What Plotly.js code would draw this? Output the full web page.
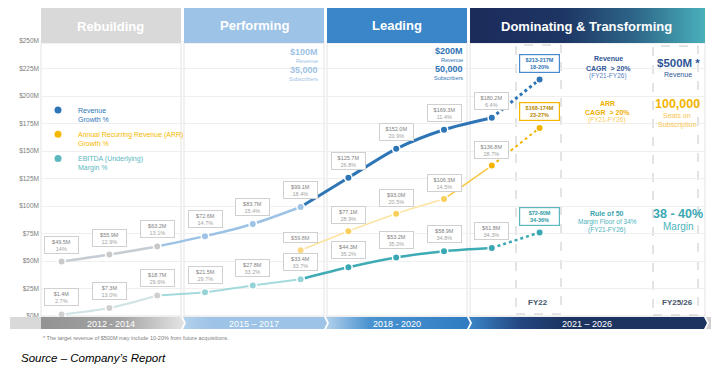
<!DOCTYPE html>
<html>
<head>
<meta charset="utf-8">
<script src="https://cdn.plot.ly/plotly-3.0.1.min.js"></script>
<style>html,body{margin:0;padding:0;background:#fff;}#chart{width:717px;height:369px;}</style>
</head>
<body>
<div id="chart"></div>
<script>
// ---------------- DATA ----------------
const years = [2012, 2013, 2014, 2015, 2016, 2017, 2018, 2019, 2020, 2021];
const revenue = [49.5, 55.9, 63.2, 72.6, 83.7, 99.1, 125.7, 152.0, 169.3, 180.2];
const revenueGrowth = ['14%', '12.9%', '13.1%', '14.7%', '15.4%', '18.4%', '26.8%', '20.9%', '11.4%', '6.4%'];
const arrYears = [2017, 2018, 2019, 2020, 2021];
const arr = [59.8, 77.1, 93.0, 106.3, 136.8];
const arrGrowth = ['', '28.9%', '20.5%', '14.5%', '28.7%'];
const ebitda = [1.4, 7.3, 18.7, 21.5, 27.8, 33.4, 44.3, 53.2, 58.9, 61.8];
const ebitdaMargin = ['2.7%', '13.0%', '29.6%', '29.7%', '33.2%', '33.7%', '35.2%', '35.0%', '34.8%', '34.3%'];
const targetYear = 2022;
const revenueTarget = 215, revenueTargetLabel = ['$213-217M', '18-20%'];
const arrTarget = 171, arrTargetLabel = ['$168-174M', '23-27%'];
const ebitdaTarget = 76, ebitdaTargetLabel = ['$72-80M', '34-36%'];
const yTicks = [0, 25, 50, 75, 100, 125, 150, 175, 200, 225, 250];
const yTickLabels = ['$0M', '$25M', '$50M', '$75M', '$100M', '$125M', '$150M', '$175M', '$200M', '$225M', '$250M'];
const phases = ['Rebuilding', 'Performing', 'Leading', 'Dominating & Transforming'];
const periods = ['2012 - 2014', '2015 – 2017', '2018 - 2020', '2021 – 2026'];

// ---------------- STYLE ----------------
const W = 717, H = 369;
const FONT = 'Arial, "Liberation Sans", sans-serif';
const BLUE = '#2e75b6', LBLUE = '#9dc3e6', GRAY = '#c9c9c9';
const TEAL = '#3aa8b2', LTEAL = '#95d3d8', YEL = '#f3b400';
const PX = x => x / W, PY = y => 1 - y / H;

function revColor(y) { return y <= 2014 ? GRAY : (y <= 2017 ? LBLUE : BLUE); }
function ebColor(y) { return y <= 2014 ? '#d0d0d0' : (y <= 2017 ? LTEAL : TEAL); }
function arrColor(y) { return y <= 2017 ? '#fcd883' : (y <= 2020 ? '#f9cf5e' : YEL); }

function sliceBy(xs, ys, a, b) {
  const ox = [], oy = [];
  xs.forEach((x, i) => { if (x >= a && x <= b) { ox.push(x); oy.push(ys[i]); } });
  return { x: ox, y: oy };
}
function lineSeg(xs, ys, a, b, color, width, dash) {
  const s = sliceBy(xs, ys, a, b);
  return { type: 'scatter', mode: 'lines', x: s.x, y: s.y, xaxis: 'x', yaxis: 'y',
    line: { color, width, shape: 'spline', smoothing: 0.8, dash: dash || 'solid' },
    showlegend: false, hoverinfo: 'skip' };
}
function markerTrace(xs, ys, colorFn) {
  return { type: 'scatter', mode: 'markers', x: xs, y: ys, xaxis: 'x', yaxis: 'y',
    marker: { size: 7.5, color: xs.map(colorFn), line: { color: '#ffffff', width: 1.5 } },
    showlegend: false, hoverinfo: 'skip', cliponaxis: false };
}
function poly(pts, fill, grad) {
  const t = { type: 'scatter', mode: 'none', xaxis: 'x2', yaxis: 'y2',
    x: pts.map(p => p[0]).concat([pts[0][0]]), y: pts.map(p => p[1]).concat([pts[0][1]]),
    fill: 'toself', fillcolor: fill, showlegend: false, hoverinfo: 'skip' };
  if (grad) t.fillgradient = { type: 'horizontal', colorscale: grad };
  return t;
}

const traces = [];
// header boxes
traces.push(poly([[41, 8], [181, 8], [181, 43], [41, 43]], '#d9d9d9'));
traces.push(poly([[184, 8], [324, 8], [324, 43], [184, 43]], LBLUE));
traces.push(poly([[327, 8], [467, 8], [467, 43], [327, 43]], '#3a86c8'));
traces.push(poly([[470, 8], [705, 8], [705, 43], [470, 43]], '#1c2c5b',
  [[0, '#1b2b5a'], [0.4, '#1e3665'], [0.7, '#2d6588'], [1, '#49b0ba']]));
// bottom period band
const b1 = 317, b2 = 329, bm = 323;
traces.push(poly([[10, b1], [41, b1], [41, b2], [10, b2]], '#d9d9d9'));
traces.push(poly([[41, b1], [181, b1], [184, bm], [181, b2], [41, b2]], '#999',
  [[0, '#939393'], [0.55, '#a2a2a2'], [1, '#e4e4e4']]));
traces.push(poly([[183, b1], [324, b1], [327, bm], [324, b2], [183, b2], [186, bm]], LBLUE,
  [[0, '#b3d1ec'], [0.2, '#9dc3e6'], [1, '#9dc3e6']]));
traces.push(poly([[326, b1], [467, b1], [470, bm], [467, b2], [326, b2], [329, bm]], '#3a86c8',
  [[0, '#b3d1ec'], [0.3, '#4a93d0'], [1, '#2f7cc2']]));
traces.push(poly([[469, b1], [704, b1], [707, bm], [704, b2], [469, b2], [472, bm]], '#1d3461',
  [[0, '#3a86c8'], [0.22, '#23457f'], [0.4, '#1d3461'], [1, '#1d3461']]));
traces.push(poly([[706, b1], [711, b1], [711, b2], [706, b2], [709, bm]], '#d0d0d0'));

// data lines
traces.push(lineSeg(years, ebitda, 2012, 2014, '#cfe3e5', 2));
traces.push(lineSeg(years, ebitda, 2014, 2017, '#a3dadd', 2));
traces.push(lineSeg(years, ebitda, 2017, 2021, '#3fabb4', 2.5));
traces.push({ ...lineSeg([2021, targetYear], [ebitda[9], ebitdaTarget], 2021, targetYear, TEAL, 2.5, 'dot') });
traces.push(lineSeg(arrYears, arr, 2017, 2020, '#fde3a0', 1.5));
traces.push(lineSeg(arrYears, arr, 2020, 2021, '#f8c840', 1.5));
traces.push(lineSeg([2021, targetYear], [arr[4], arrTarget], 2021, targetYear, YEL, 2, 'dot'));
traces.push(lineSeg(years, revenue, 2012, 2014, '#c6ccd3', 2.5));
traces.push(lineSeg(years, revenue, 2014, 2017, '#9cc2e5', 2.5));
traces.push(lineSeg(years, revenue, 2017, 2021, BLUE, 3));
traces.push(lineSeg([2021, targetYear], [revenue[9], revenueTarget], 2021, targetYear, BLUE, 3, 'dot'));
// markers
traces.push(markerTrace(years.concat([targetYear]), ebitda.concat([ebitdaTarget]), ebColor));
traces.push(markerTrace(arrYears.concat([targetYear]), arr.concat([arrTarget]), arrColor));
traces.push(markerTrace(years.concat([targetYear]), revenue.concat([revenueTarget]), revColor));
// legend entries
const legendItems = [
  ['Revenue<br>Growth %', BLUE, '#2e75b6'],
  ['Annual Recurring Revenue (ARR)<br>Growth %', '#f5b800', '#f5b800'],
  ['EBITDA (Underlying)<br>Margin %', '#5bb8c0', '#5bb8c0']
];
legendItems.forEach((it, i) => {
  traces.push({ type: 'scatter', mode: 'markers', x: [null], y: [null], xaxis: 'x', yaxis: 'y',
    marker: { size: 7, color: it[1] }, legendgroup: 'g' + i,
    name: '<span style="color:' + it[2] + '">' + it[0] + '</span>', showlegend: true, hoverinfo: 'skip' });
});

// ---------------- ANNOTATIONS ----------------
const ann = [];
function dataLabel(x, y, l1, l2, shift) {
  const text = l2 ? '<span style="color:#808080">' + l1 + '</span><br><span style="color:#a3a3a3">' + l2 + '</span>'
                  : '<span style="color:#8a8a8a">' + l1 + '</span>';
  ann.push({ x, y, xref: 'x', yref: 'y', text, showarrow: false, yshift: shift || 17,
    font: { size: 5.5, family: FONT }, bgcolor: '#ffffff', bordercolor: '#d0d0d0', borderwidth: 1,
    borderpad: 1.5, width: 30 });
}
years.forEach((y, i) => dataLabel(y, revenue[i], '$' + revenue[i].toFixed(1) + 'M', revenueGrowth[i]));
years.forEach((y, i) => dataLabel(y, ebitda[i], '$' + ebitda[i].toFixed(1) + 'M', ebitdaMargin[i]));
arrYears.forEach((y, i) => dataLabel(y, arr[i], '$' + arr[i].toFixed(1) + 'M', arrGrowth[i], arrGrowth[i] ? 16 : 13));
function targetLabel(y, lab, color, textColor) {
  ann.push({ x: targetYear, y, xref: 'x', yref: 'y', showarrow: false, yshift: 16,
    text: '<b>' + lab[0] + '<br>' + lab[1] + '</b>', font: { size: 5.5, family: FONT, color: textColor },
    bgcolor: '#ffffff', bordercolor: color, borderwidth: 1.2, borderpad: 1.5, width: 36 });
}
targetLabel(revenueTarget, revenueTargetLabel, '#4a8acb', '#2e75b6');
targetLabel(arrTarget, arrTargetLabel, '#f5b800', '#b88a00');
targetLabel(ebitdaTarget, ebitdaTargetLabel, '#5bb8c0', '#2e9aa6');

function T(x, y, text, size, color, xanchor, bold, italic) {
  ann.push({ x: PX(x), y: PY(y), xref: 'paper', yref: 'paper', showarrow: false,
    text: bold ? '<b>' + text + '</b>' : (italic ? '<i>' + text + '</i>' : text),
    xanchor: xanchor || 'center', yanchor: 'middle',
    font: { size, color, family: FONT } });
}
// headers
T(111, 27, phases[0], 13, '#ffffff', 'center', true);
T(254, 25, phases[1], 13, '#ffffff', 'center', true);
T(397, 25, phases[2], 13, '#ffffff', 'center', true);
T(586, 27, phases[3], 13, '#ffffff', 'center', true);
// period labels
T(111, 323.5, periods[0], 9, '#ffffff');
T(254, 323.5, periods[1], 9, '#ffffff');
T(397, 323.5, periods[2], 9, '#ffffff');
T(587, 323.5, periods[3], 9, '#ffffff');
// milestone notes
T(320, 52, '$100M', 9, '#9dc3e6', 'right', true);
T(320, 61, 'Revenue', 5.5, '#9dc3e6', 'right');
T(320, 70, '35,000', 9, '#9dc3e6', 'right', true);
T(320, 79, 'Subscribers', 5.5, '#9dc3e6', 'right');
T(465, 51, '$200M', 9, '#2e75b6', 'right', true);
T(465, 60, 'Revenue', 5.5, '#2e75b6', 'right');
T(465, 69, '50,000', 9, '#2e75b6', 'right', true);
T(465, 78, 'Subscribers', 5.5, '#2e75b6', 'right');
// targets columns
T(608, 59, 'Revenue', 7, '#2f5597', 'center', true);
T(608, 68, 'CAGR  &gt; 20%', 7, '#2f5597', 'center', true);
T(608, 76, '(FY21-FY26)', 6.5, '#5a7fc0');
T(607, 103, 'ARR', 7, '#f0b000', 'center', true);
T(607, 112, 'CAGR  &gt; 20%', 7, '#f0b000', 'center', true);
T(607, 120, '(FY21-FY26)', 6.5, '#f7cb5c');
T(607, 213, 'Rule of 50', 7, '#3aa3ae', 'center', true);
T(607, 222, 'Margin Floor of 34%', 6.5, '#4db3bc');
T(607, 229.5, '(FY21-FY26)', 6.5, '#4db3bc');
T(678, 63, '$500M *', 11.5, '#2f5597', 'center', true);
T(678, 74, 'Revenue', 7, '#2f5597');
T(677, 104, '100,000', 12.5, '#f3b400', 'center', true);
T(677, 116, 'Seats on', 7, '#f8c550');
T(677, 125, 'Subscription', 7, '#f8c550');
T(678, 214, '38 - 40%', 12.5, '#3aa8b2', 'center', true);
T(678, 226, 'Margin', 10, '#4db3bc');
T(538, 302, 'FY22', 8, '#44546a', 'center', true);
T(677, 302, 'FY25/26', 8, '#44546a', 'center', true);
// footnote & source
T(41, 338, '* The target revenue of $500M may include 10-20% from future acquisitions.', 5.5, '#808080', 'left');
T(19, 358, 'Source – Company’s Report', 11.5, '#000000', 'left', false, true);

// ---------------- SHAPES ----------------
const shapes = [];
[[41, 43, 181, 316], [184, 43, 324, 316], [327, 43, 467, 316], [470, 43, 705, 316]].forEach(r => {
  shapes.push({ type: 'rect', xref: 'paper', yref: 'paper', layer: 'below',
    x0: PX(r[0]), x1: PX(r[2]), y0: PY(r[3]), y1: PY(r[1]),
    line: { color: '#e3e3e3', width: 1 } });
});
[[516, 45, 561, 314], [653, 46, 698, 315]].forEach(r => {
  shapes.push({ type: 'rect', xref: 'paper', yref: 'paper', layer: 'below',
    x0: PX(r[0]), x1: PX(r[2]), y0: PY(r[3]), y1: PY(r[1]),
    line: { color: '#c8c8c8', width: 1, dash: 'dash' } });
});

const layout = {
  width: W, height: H, margin: { l: 0, r: 0, t: 0, b: 0 },
  paper_bgcolor: '#ffffff', plot_bgcolor: 'rgba(0,0,0,0)',
  font: { family: FONT },
  xaxis: { domain: [40 / W, 705 / W], range: [2011.5481, 2025.4603], visible: false, fixedrange: true },
  yaxis: { domain: [0, 1], range: [-48.18, 287.27], tickvals: yTicks, ticktext: yTickLabels,
    showgrid: true, gridcolor: '#efefef', gridwidth: 1, zeroline: false, showline: false, ticks: '',
    tickfont: { size: 6.5, color: '#808080', family: FONT }, fixedrange: true },
  xaxis2: { domain: [0, 1], range: [0, W], visible: false, anchor: 'y2', fixedrange: true },
  yaxis2: { domain: [0, 1], range: [H, 0], visible: false, anchor: 'x2', fixedrange: true },
  showlegend: true,
  legend: { x: 38 / W, y: PY(99), xanchor: 'left', yanchor: 'top', bgcolor: 'rgba(0,0,0,0)',
    font: { size: 7, family: FONT }, valign: 'top', tracegroupgap: 3, traceorder: 'grouped' },
  annotations: ann, shapes: shapes
};
Plotly.newPlot('chart', traces, layout, { displayModeBar: false, staticPlot: true });
</script>
</body>
</html>
